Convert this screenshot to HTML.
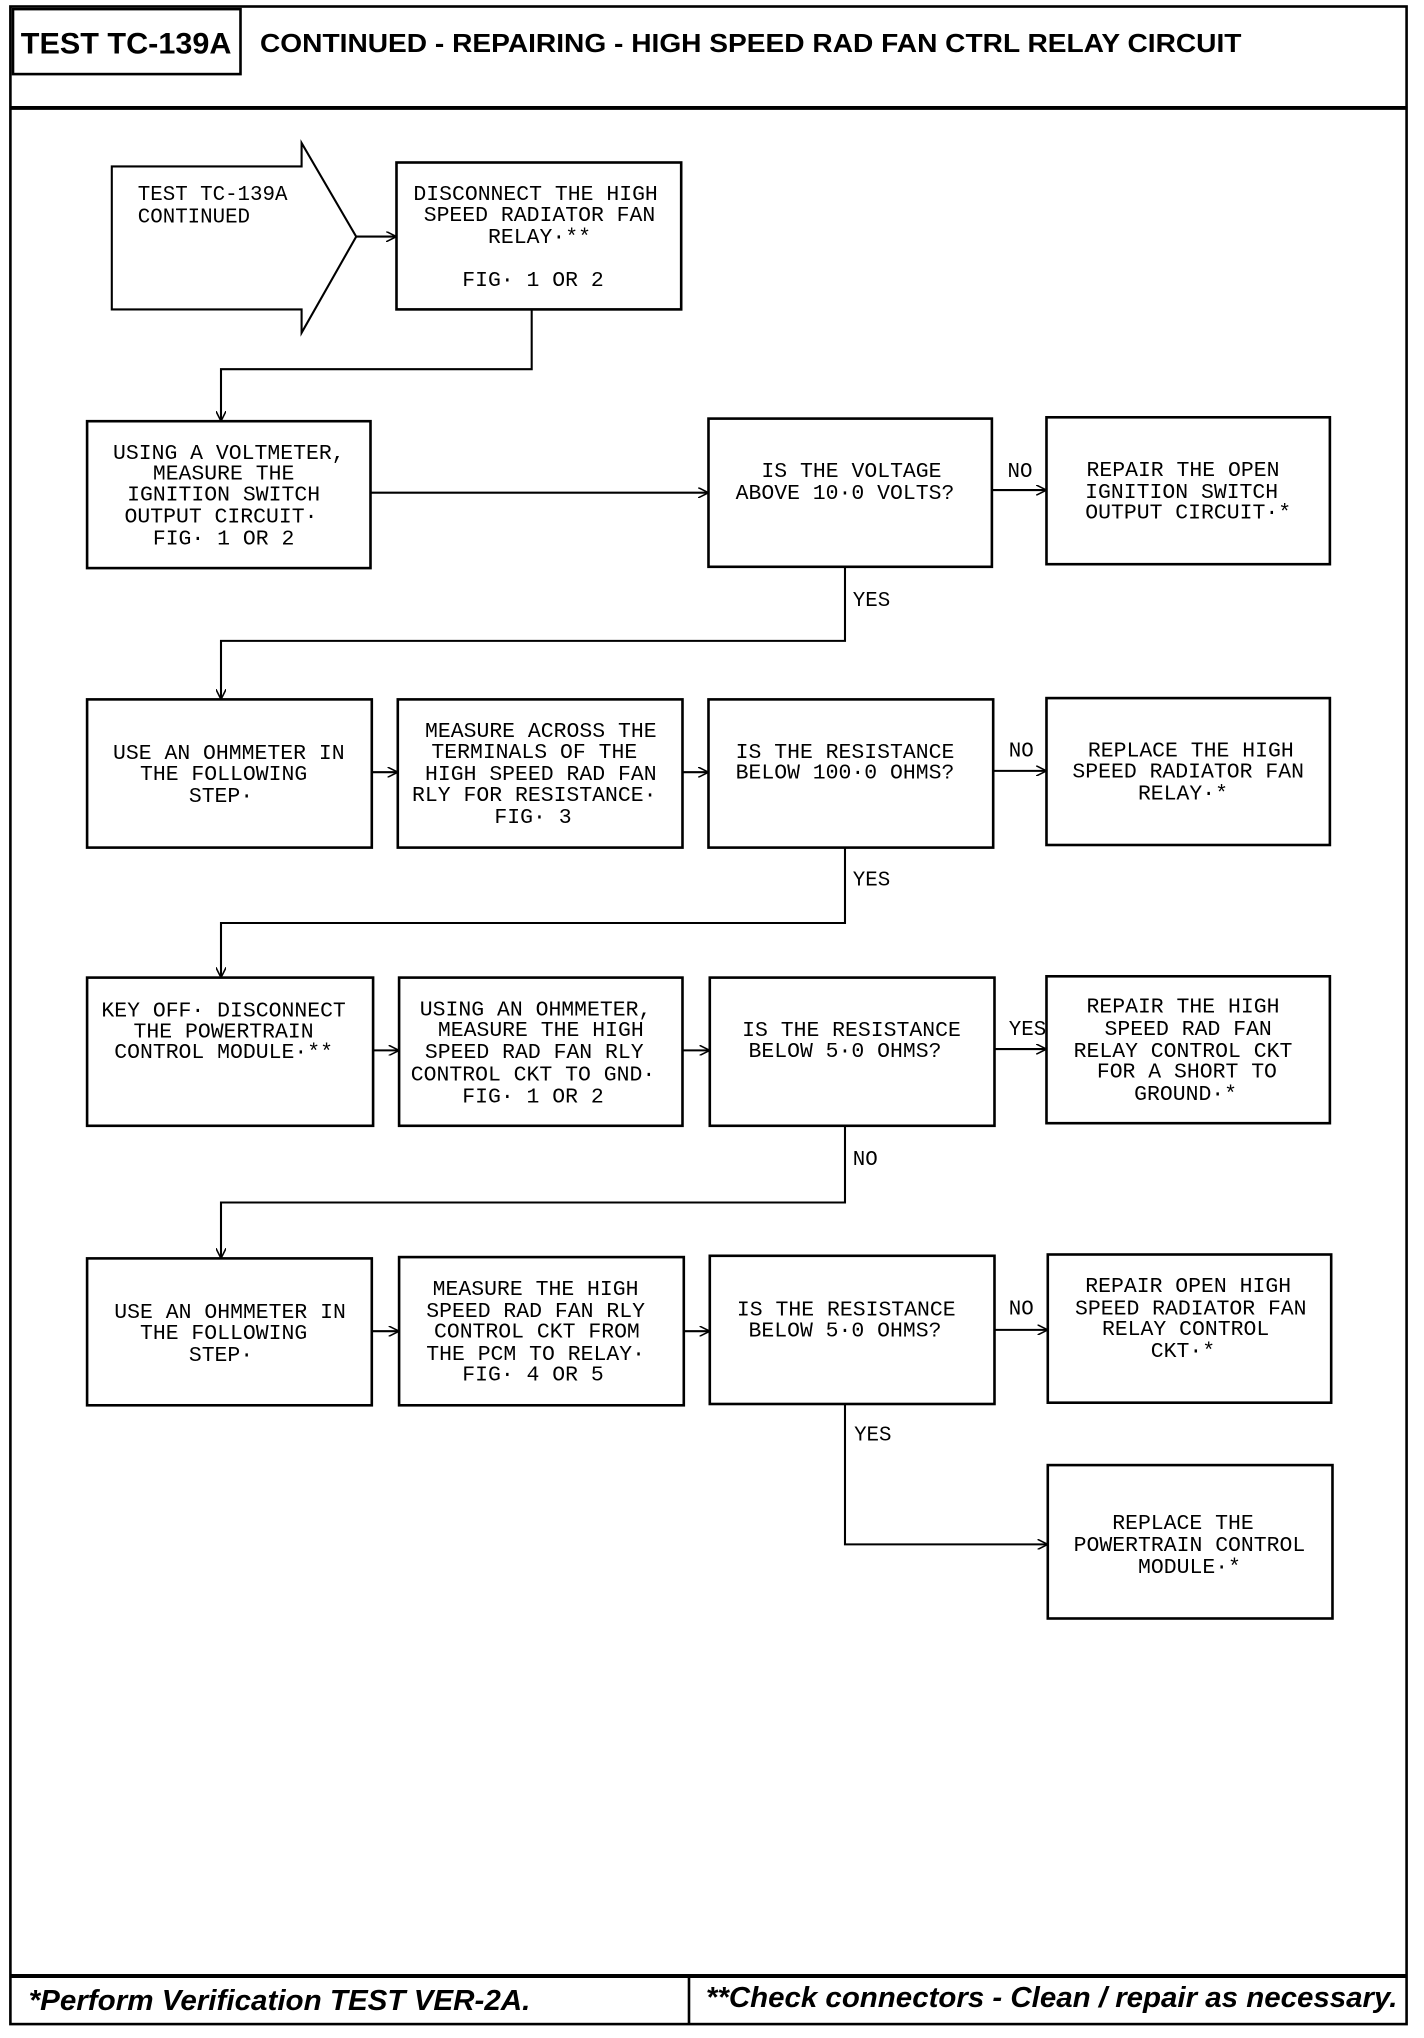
<!DOCTYPE html>
<html><head><meta charset="utf-8"><style>
html,body{margin:0;padding:0;background:#fff;}
svg{display:block;}
.t{font-family:"Liberation Mono",monospace;font-size:16.5px;fill:#000;text-anchor:middle;}
.l{font-family:"Liberation Mono",monospace;font-size:16px;fill:#000;}
.h{font-family:"Liberation Sans",sans-serif;font-weight:bold;fill:#000;}
.f{font-family:"Liberation Sans",sans-serif;font-weight:bold;font-style:italic;fill:#000;font-size:22px;}
</style></head><body>
<svg width="1424" height="2038" viewBox="0 0 1095.4 1567.7" preserveAspectRatio="none" xmlns="http://www.w3.org/2000/svg">
<defs><marker id="a" markerWidth="8" markerHeight="8" refX="7" refY="4" orient="auto" markerUnits="userSpaceOnUse"><path d="M0,0 L8,4 L0,8" fill="none" stroke="#000" stroke-width="1.2"/></marker></defs>
<g fill="none" stroke="#000" stroke-width="2">
<rect x="8" y="5" width="1074" height="1552"/>
<line x1="8" y1="83" x2="1082" y2="83" stroke-width="3"/>
<rect x="10" y="7" width="175" height="50"/>
<line x1="8" y1="1520" x2="1082" y2="1520" stroke-width="3"/>
<line x1="530" y1="1520" x2="530" y2="1557"/>
<path d="M86,128 L232,128 L232,110 L274,182 L232,256 L232,238 L86,238 Z" stroke-width="1.6"/>
<rect x="305" y="125" width="219" height="113"/>
<rect x="67" y="324" width="218" height="113"/>
<rect x="545" y="322" width="218" height="114"/>
<rect x="805" y="321" width="218" height="113"/>
<rect x="67" y="538" width="219" height="114"/>
<rect x="306" y="538" width="219" height="114"/>
<rect x="545" y="538" width="219" height="114"/>
<rect x="805" y="537" width="218" height="113"/>
<rect x="67" y="752" width="220" height="114"/>
<rect x="307" y="752" width="218" height="114"/>
<rect x="546" y="752" width="219" height="114"/>
<rect x="805" y="751" width="218" height="113"/>
<rect x="67" y="968" width="219" height="113"/>
<rect x="307" y="967" width="219" height="114"/>
<rect x="546" y="966" width="219" height="114"/>
<rect x="806" y="965" width="218" height="114"/>
<rect x="806" y="1127" width="219" height="118"/>
</g>
<g fill="none" stroke="#000" stroke-width="1.6" marker-end="url(#a)">
<line x1="274" y1="182" x2="304" y2="182"/>
<polyline points="409,238 409,284 170,284 170,323"/>
<line x1="285" y1="379" x2="544" y2="379"/>
<line x1="763" y1="377" x2="804" y2="377"/>
<polyline points="650,436 650,493 170,493 170,537"/>
<line x1="286" y1="594" x2="305" y2="594"/>
<line x1="525" y1="594" x2="544" y2="594"/>
<line x1="764" y1="593" x2="804" y2="593"/>
<polyline points="650,652 650,710 170,710 170,751"/>
<line x1="287" y1="808" x2="306" y2="808"/>
<line x1="525" y1="808" x2="545" y2="808"/>
<line x1="765" y1="807" x2="804" y2="807"/>
<polyline points="650,866 650,925 170,925 170,967"/>
<line x1="286" y1="1024" x2="306" y2="1024"/>
<line x1="526" y1="1024" x2="545" y2="1024"/>
<line x1="765" y1="1023" x2="805" y2="1023"/>
<polyline points="650,1080 650,1188 805,1188"/>
</g>
<text class="h" x="16" y="41" font-size="23" textLength="162" lengthAdjust="spacingAndGlyphs">TEST TC-139A</text>
<text class="h" x="200" y="40" font-size="20" textLength="755" lengthAdjust="spacingAndGlyphs">CONTINUED - REPAIRING - HIGH SPEED RAD FAN CTRL RELAY CIRCUIT</text>
<text class="f" x="22" y="1546" textLength="386" lengthAdjust="spacingAndGlyphs">*Perform Verification TEST VER-2A.</text>
<text class="f" x="543" y="1544" textLength="532" lengthAdjust="spacingAndGlyphs">**Check connectors - Clean / repair as necessary.</text>
<g class="l">
<text x="106" y="154">TEST TC-139A</text><text x="106" y="171">CONTINUED</text>
<text x="775" y="367">NO</text><text x="656" y="466">YES</text>
<text x="776" y="582">NO</text><text x="656" y="681">YES</text>
<text x="776" y="796">YES</text><text x="656" y="896">NO</text>
<text x="776" y="1011">NO</text><text x="657" y="1108">YES</text>
</g>
<g class="t">
<text x="412" y="154">DISCONNECT THE HIGH</text><text x="415" y="170">SPEED RADIATOR FAN</text><text x="415" y="187">RELAY·**</text><text x="410" y="220">FIG· 1 OR 2</text>
<text x="176" y="353">USING A VOLTMETER,</text><text x="172" y="369">MEASURE THE</text><text x="172" y="385">IGNITION SWITCH</text><text x="170" y="402">OUTPUT CIRCUIT·</text><text x="172" y="419">FIG· 1 OR 2</text>
<text x="655" y="367">IS THE VOLTAGE</text><text x="650" y="384">ABOVE 10·0 VOLTS?</text>
<text x="910" y="366">REPAIR THE OPEN</text><text x="909" y="383">IGNITION SWITCH</text><text x="914" y="399">OUTPUT CIRCUIT·*</text>
<text x="176" y="584">USE AN OHMMETER IN</text><text x="172" y="600">THE FOLLOWING</text><text x="170" y="617">STEP·</text>
<text x="416" y="567">MEASURE ACROSS THE</text><text x="411" y="583">TERMINALS OF THE</text><text x="416" y="600">HIGH SPEED RAD FAN</text><text x="411" y="616">RLY FOR RESISTANCE·</text><text x="410" y="633">FIG· 3</text>
<text x="650" y="583">IS THE RESISTANCE</text><text x="650" y="599">BELOW 100·0 OHMS?</text>
<text x="916" y="582">REPLACE THE HIGH</text><text x="914" y="598">SPEED RADIATOR FAN</text><text x="910" y="615">RELAY·*</text>
<text x="172" y="782">KEY OFF· DISCONNECT</text><text x="172" y="798">THE POWERTRAIN</text><text x="172" y="814">CONTROL MODULE·**</text>
<text x="412" y="781">USING AN OHMMETER,</text><text x="416" y="797">MEASURE THE HIGH</text><text x="411" y="814">SPEED RAD FAN RLY</text><text x="410" y="831">CONTROL CKT TO GND·</text><text x="410" y="848">FIG· 1 OR 2</text>
<text x="655" y="797">IS THE RESISTANCE</text><text x="650" y="813">BELOW 5·0 OHMS?</text>
<text x="910" y="779">REPAIR THE HIGH</text><text x="914" y="796">SPEED RAD FAN</text><text x="910" y="813">RELAY CONTROL CKT</text><text x="913" y="829">FOR A SHORT TO</text><text x="912" y="846">GROUND·*</text>
<text x="177" y="1014">USE AN OHMMETER IN</text><text x="172" y="1030">THE FOLLOWING</text><text x="170" y="1047">STEP·</text>
<text x="412" y="996">MEASURE THE HIGH</text><text x="412" y="1013">SPEED RAD FAN RLY</text><text x="413" y="1029">CONTROL CKT FROM</text><text x="412" y="1046">THE PCM TO RELAY·</text><text x="410" y="1062">FIG· 4 OR 5</text>
<text x="651" y="1012">IS THE RESISTANCE</text><text x="650" y="1028">BELOW 5·0 OHMS?</text>
<text x="914" y="994">REPAIR OPEN HIGH</text><text x="916" y="1011">SPEED RADIATOR FAN</text><text x="912" y="1027">RELAY CONTROL</text><text x="910" y="1044">CKT·*</text>
<text x="910" y="1176">REPLACE THE</text><text x="915" y="1193">POWERTRAIN CONTROL</text><text x="915" y="1210">MODULE·*</text>
</g>
</svg>
</body></html>
